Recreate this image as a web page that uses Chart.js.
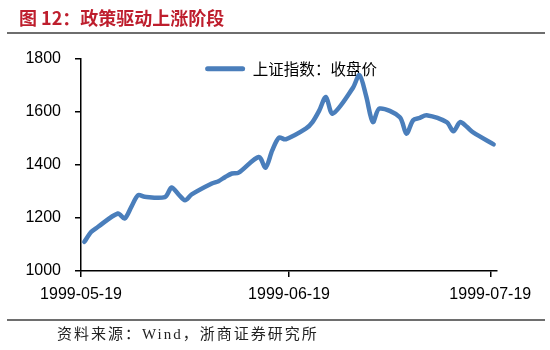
<!DOCTYPE html>
<html>
<head>
<meta charset="utf-8">
<script src="https://cdn.jsdelivr.net/npm/chart.js@4.4.1/dist/chart.umd.min.js"></script>
<style>
  body { margin: 0; background: #fff; }
  #chart { display: block; }
</style>
</head>
<body>
<canvas id="chart" width="550" height="350"></canvas>
<script>
// =======================================
// DATA
// =======================================

const titleText = "图 12：政策驱动上涨阶段";
const sourceText = "资料来源：Wind，浙商证券研究所";
const seriesName = "上证指数：收盘价";

const tradeDates = [
    "1999-05-19", "1999-05-20", "1999-05-21", "1999-05-24", "1999-05-25",
    "1999-05-26", "1999-05-27", "1999-05-28", "1999-05-31", "1999-06-01",
    "1999-06-02", "1999-06-03", "1999-06-04", "1999-06-07", "1999-06-08",
    "1999-06-09", "1999-06-10", "1999-06-11", "1999-06-14", "1999-06-15",
    "1999-06-16", "1999-06-17", "1999-06-18", "1999-06-21", "1999-06-22",
    "1999-06-23", "1999-06-24", "1999-06-25", "1999-06-28", "1999-06-29",
    "1999-06-30", "1999-07-01", "1999-07-02", "1999-07-05", "1999-07-06",
    "1999-07-07", "1999-07-08", "1999-07-09", "1999-07-12", "1999-07-13",
    "1999-07-14", "1999-07-15", "1999-07-16", "1999-07-19"
];

const closes = [
    1110, 1147, 1166, 1217, 1198,
    1242, 1286, 1280, 1279, 1315,
    1290, 1267, 1289, 1330, 1339,
    1355, 1368, 1371, 1430, 1390,
    1455, 1503, 1497, 1537, 1562,
    1605, 1657, 1594, 1690, 1739,
    1660, 1562, 1613, 1581, 1518,
    1569, 1578, 1588, 1562, 1527,
    1562, 1544, 1522, 1478
];

const xTickLabels = ["1999-05-19", "1999-06-19", "1999-07-19"];
const yTicks = [1000, 1200, 1400, 1600, 1800];

// =======================================
// HELPERS
// =======================================

const startDate = xTickLabels[0];
const axisEnd = "1999-07-20";

function dayOf(d){
    return (Date.parse(d) - Date.parse(startDate)) / 86400000;
}

// each day is drawn in the middle of its one-day slot
const points = tradeDates.map((d, i) => ({ x: dayOf(d) + 0.5, y: closes[i] }));

const lineColor = "#4a7ebb";
const tickFont = { family: "Liberation Sans", size: 16 };

// =======================================
// PLUGINS: title / rules / source, legend placement
// =======================================

const framePlugin = {
    id: "frame",
    beforeDraw(chart){
        const c = chart.ctx;
        c.save();
        c.fillStyle = "#fff";
        c.fillRect(0, 0, chart.width, chart.height);

        // grey rules under the title and above the source
        c.fillStyle = "#6e6e6e";
        c.fillRect(7, 32, 538, 2);
        c.fillRect(7, 319, 538, 2);

        c.textBaseline = "middle";
        c.textAlign = "left";

        c.font = "bold 18px 'Noto Sans CJK SC', 'Liberation Sans'";
        c.fillStyle = "#be1e2d";
        c.fillText(titleText, 19, 18);

        c.font = "15px 'Liberation Serif', 'Noto Sans CJK SC'";
        c.letterSpacing = "2px";
        c.fillStyle = "#222";
        c.fillText(sourceText, 57, 335);
        c.letterSpacing = "0px";
        c.restore();
    }
};

const legendPlace = {
    id: "legendPlace",
    afterLayout(chart){
        const lg = chart.legend;
        const ca = chart.chartArea;
        const w = lg.width, h = lg.height;
        lg.left = (ca.left + ca.right) / 2 - w / 2 + 6;
        lg.right = lg.left + w;
        lg.top = ca.top;
        lg.bottom = lg.top + h;
    }
};

// =======================================
// CHART
// =======================================

const ctx = document.getElementById("chart").getContext("2d");

new Chart(ctx, {
    type: "line",
    data: {
        datasets: [
            {
                label: seriesName,
                data: points,
                borderColor: lineColor,
                backgroundColor: lineColor,
                borderWidth: 4.5,
                borderCapStyle: "round",
                borderJoinStyle: "round",
                pointRadius: 0,
                tension: 0.3,
                fill: false
            }
        ]
    },
    plugins: [framePlugin, legendPlace],
    options: {
        responsive: false,
        animation: false,
        layout: {
            padding: { left: 0, top: 59, right: 53, bottom: 39 }
        },
        plugins: {
            tooltip: { enabled: false },
            legend: {
                position: "chartArea",
                align: "start",
                labels: {
                    color: "#000",
                    font: { family: "Noto Sans CJK SC", size: 15.5 },
                    boxWidth: 40,
                    boxHeight: 5,
                    padding: 2,
                    useBorderRadius: true,
                    borderRadius: 2.5,
                    generateLabels: chart =>
                        Chart.defaults.plugins.legend.labels.generateLabels(chart)
                        .map(item => Object.assign(item, { lineWidth: 0, fillStyle: lineColor }))
                }
            }
        },
        scales: {
            x: {
                type: "linear",
                min: 0,
                max: dayOf(axisEnd),
                afterFit: s => { s.height = 40; },
                afterBuildTicks: s => {
                    s.ticks = xTickLabels.map(d => ({ value: dayOf(d) }));
                },
                grid: {
                    drawOnChartArea: false,
                    drawTicks: true,
                    tickLength: 6,
                    color: "#000",
                    lineWidth: 1.5
                },
                border: { display: true, color: "#000", width: 1.5 },
                ticks: {
                    autoSkip: false,
                    maxRotation: 0,
                    padding: 8,
                    color: "#000",
                    font: tickFont,
                    callback: v => {
                        let i = xTickLabels.findIndex(d => dayOf(d) === v);
                        return i >= 0 ? xTickLabels[i] : "";
                    }
                }
            },
            y: {
                min: yTicks[0],
                max: yTicks[yTicks.length - 1],
                afterFit: s => { s.width = 81; },
                afterBuildTicks: s => {
                    s.ticks = yTicks.map(v => ({ value: v }));
                },
                grid: {
                    drawOnChartArea: false,
                    drawTicks: true,
                    tickLength: 6,
                    color: "#000",
                    lineWidth: 1.5
                },
                border: { display: true, color: "#000", width: 1.5 },
                ticks: {
                    padding: 14,
                    color: "#000",
                    font: tickFont,
                    callback: v => String(v)
                }
            }
        }
    }
});
</script>
</body>
</html>
